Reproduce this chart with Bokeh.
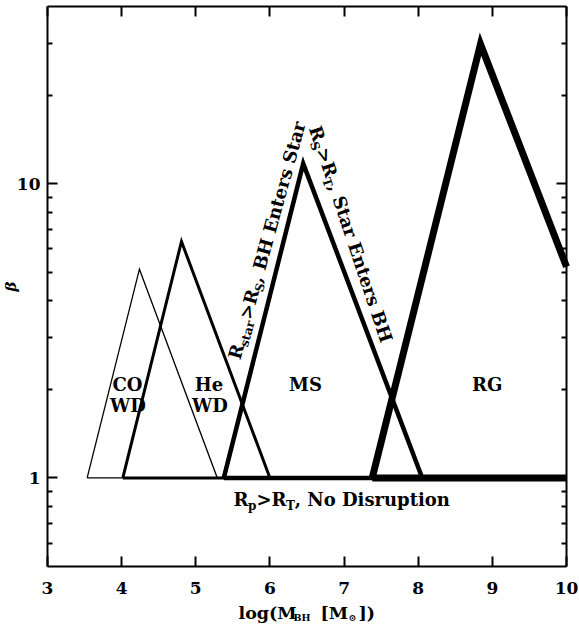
import math
from bokeh.plotting import figure
from bokeh.models import FixedTicker, LinearAxis, LogAxis, Range1d, Label, NumeralTickFormatter
from bokeh.embed import file_html
from bokeh.resources import INLINE

# ---------------- data ----------------
co_x = [3.535, 4.24, 5.29, 3.535]
co_y = [1.0, 5.12, 1.0, 1.0]
he_x = [4.016, 4.807, 6.0, 4.016]
he_y = [1.0, 6.36, 1.0, 1.0]
ms_x = [5.378, 6.449, 8.054, 5.378]
ms_y = [1.0, 11.7, 1.0, 1.0]
rg_x = [7.38, 8.84, 10.0]
rg_y = [1.0, 29.8, 5.22]
rg_base_x = [7.38, 10.0]
rg_base_y = [1.0, 1.0]

x_ticks = [3, 4, 5, 6, 7, 8, 9, 10]
y_major = [1, 10]
y_minor = [0.6, 0.7, 0.8, 0.9, 2, 3, 4, 5, 6, 7, 8, 9, 20, 30]

region_labels = ["CO", "WD", "He", "WD", "MS", "RG"]

# ---------------- layout ----------------
W, H = 579, 625
AX0, AX1 = 47, 566      # pixel x of data box left / right
AY0, AY1 = 6, 566       # pixel y of data box top / bottom
XMIN, XMAX = 3.0, 10.0
YMIN, YMAX = 0.5, 40.0
PXU = (AX1 - AX0) / (XMAX - XMIN)
DPP = (math.log10(YMAX) - math.log10(YMIN)) / (AY1 - AY0)

FONT = "DejaVu Serif"


def to_data(px, py):
    x = XMIN + (px - AX0) / PXU
    ly = math.log10(YMIN) + (AY1 - py) * DPP
    return x, 10 ** ly


# frame covers the whole canvas; the four axes sit at fixed locations
x_lo = XMIN - AX0 / PXU
x_hi = XMAX + (W - AX1) / PXU
y_lo = 10 ** (math.log10(YMIN) - (H - AY1) * DPP)
y_hi = 10 ** (math.log10(YMAX) + AY0 * DPP)

WID = {"R": 0.80, "p": 0.71, ">": 0.84, "T": 0.73, "S": 0.72, ",": 0.38, " ": 0.35,
       "s": 0.59, "t": 0.48, "a": 0.68, "r": 0.53, "N": 0.87, "o": 0.66, "D": 0.83,
       "i": 0.39, "u": 0.71, "n": 0.71, "B": 0.80, "H": 0.95, "E": 0.76, "l": 0.38,
       "g": 0.71, "(": 0.47, ")": 0.47, "M": 1.0, "[": 0.47, "]": 0.47, "⊙": 0.9,
       "e": 0.66}


def twidth(s, size):
    return sum(WID.get(c, 0.65) for c in s) * size


p = figure(width=W, height=H, x_range=Range1d(x_lo, x_hi), y_range=Range1d(y_lo, y_hi),
           y_axis_type="log", output_backend="svg", toolbar_location=None,
           x_axis_location=None, y_axis_location=None,
           min_border_left=0, min_border_right=0, min_border_top=0, min_border_bottom=0)
p.xgrid.visible = False
p.ygrid.visible = False
p.outline_line_color = None
p.background_fill_color = "white"
p.border_fill_color = "white"


def style_axis(ax, ticks, labels=True):
    ax.axis_line_width = 2
    ax.axis_line_color = "black"
    ax.major_tick_in = 10
    ax.major_tick_out = 0
    ax.minor_tick_in = 5
    ax.minor_tick_out = 0
    ax.major_tick_line_width = 2
    ax.minor_tick_line_width = 2
    ax.major_tick_line_color = "black"
    ax.minor_tick_line_color = "black"
    ax.major_label_text_font = FONT
    ax.major_label_text_font_style = "bold"
    ax.major_label_text_color = "black"
    if labels:
        ax.major_label_text_font_size = "17px"
    else:
        ax.major_label_text_font_size = "1px"
        ax.major_label_standoff = 0
        ax.major_label_overrides = {t: "" for t in ticks}


bottom = LinearAxis(ticker=FixedTicker(ticks=x_ticks, minor_ticks=[]),
                    fixed_location=YMIN, bounds=(XMIN, XMAX))
style_axis(bottom, x_ticks)
bottom.major_label_standoff = 15
p.add_layout(bottom, "below")

left = LogAxis(ticker=FixedTicker(ticks=y_major, minor_ticks=y_minor),
               formatter=NumeralTickFormatter(format="0"),
               fixed_location=XMIN, bounds=(YMIN, YMAX))
style_axis(left, y_major)
left.major_label_standoff = 7
p.add_layout(left, "left")

top = LinearAxis(ticker=FixedTicker(ticks=x_ticks, minor_ticks=[]),
                 fixed_location=YMAX, bounds=(XMIN, XMAX))
style_axis(top, x_ticks, labels=False)
p.add_layout(top, "above")

right = LogAxis(ticker=FixedTicker(ticks=y_major, minor_ticks=y_minor),
                fixed_location=XMAX, bounds=(YMIN, YMAX))
style_axis(right, y_major, labels=False)
p.add_layout(right, "right")

# ---------------- triangles ----------------
p.line(co_x, co_y, line_color="black", line_width=1.3, line_join="miter")
p.line(he_x, he_y, line_color="black", line_width=3, line_join="miter")
p.line(ms_x, ms_y, line_color="black", line_width=4.5, line_join="miter")
p.line(rg_x, rg_y, line_color="black", line_width=7, line_join="miter")
p.line(rg_base_x, rg_base_y, line_color="black", line_width=7)

BASE_FIX = 0.38  # em: Label draws a bit below the requested baseline


def add_label(px, py, text, size, angle=0.0, align="left", style="bold"):
    # shift "up" in the text's own frame
    sh = BASE_FIX * size
    px -= sh * math.sin(angle)
    py -= sh * math.cos(angle)
    x, y = to_data(px, py)
    p.add_layout(Label(x=x, y=y, text=text, angle=angle, text_font=FONT,
                       text_font_style=style, text_font_size=f"{size}px",
                       text_align=align, text_baseline="alphabetic", text_color="black"))


def rich(pieces, sx, sy, angle_deg, size, sub_size, drop):
    th = math.radians(angle_deg)
    ux, uy = math.cos(th), -math.sin(th)
    dx, dy = math.sin(th), math.cos(th)
    adv = 0.0
    for txt, sub in pieces:
        fs = sub_size if sub else size
        px = sx + adv * ux + (drop * dx if sub else 0)
        py = sy + adv * uy + (drop * dy if sub else 0)
        add_label(px, py, txt, fs, angle=th)
        adv += twidth(txt, fs)


# y axis title
add_label(16, 286, "β", 15, angle=math.pi / 2, align="center", style="bold italic")

# region names
pos = [(127, 391), (127.5, 412), (208.5, 391), (209.5, 412), (305, 391), (486.7, 391)]
for t, (px, py) in zip(region_labels, pos):
    add_label(px, py, t, 18, align="center")

rich([("R", False), ("p", True), (">R", False), ("T", True), (", No Disruption", False)],
     233, 505.7, 0, 18, 12, 4)
rich([("R", False), ("star", True), (">R", False), ("S", True), (", BH Enters Star", False)],
     240, 360, 74.5, 18, 12, 4)
rich([("R", False), ("S", True), (">R", False), ("T", True), (", Star Enters BH", False)],
     308, 128, -71.5, 18, 12, 4)

# x axis title, pieces placed where the reference shows them
xlabel_pieces = [("log(M", 238, False), ("BH", 293, True), ("[M", 320, False),
                 ("⊙", 348, True), ("])", 358, False)]
for txt, px, sub in xlabel_pieces:
    add_label(px, 619 + (2 if sub else 0), txt, 9.5 if sub else 17.5)

open("out.html", "w").write(file_html(p, INLINE))
